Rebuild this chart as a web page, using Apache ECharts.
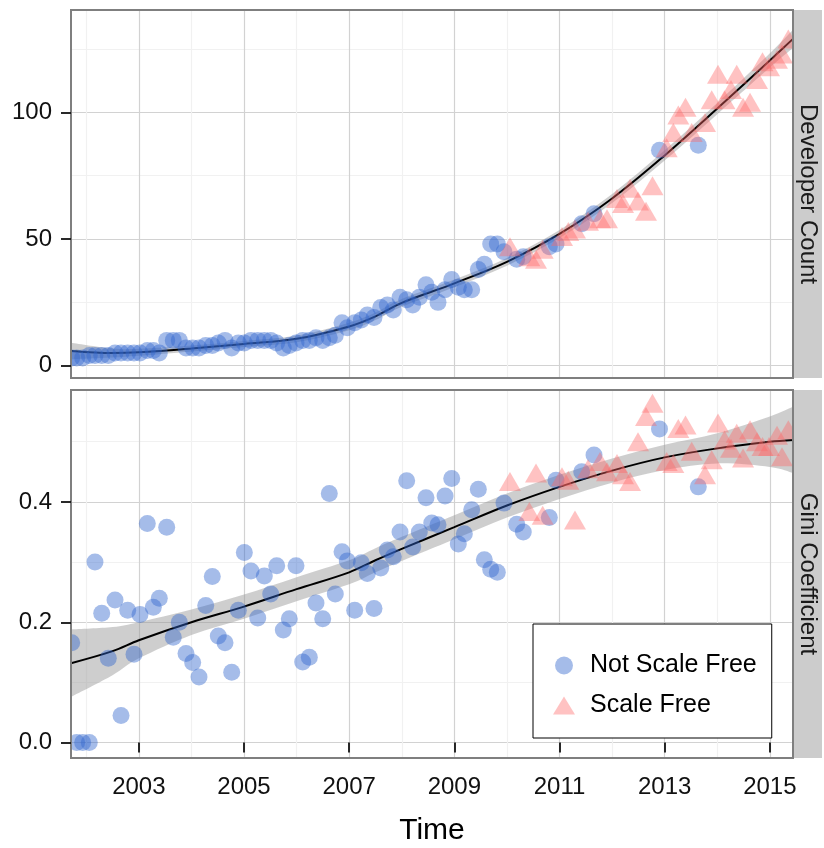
<!DOCTYPE html>
<html>
<head>
<meta charset="utf-8">
<script src="https://cdn.jsdelivr.net/npm/echarts@6/dist/echarts.min.js"></script>
<style>
  html, body { margin: 0; padding: 0; background: #ffffff; }
  #chart { width: 824px; height: 848px; }
</style>
</head>
<body>
<div id="chart"></div>
<script>
// ---- Observations (decimal years) ----
const times = [
  2001.723, 2001.818, 2001.932, 2002.058, 2002.166, 2002.294, 2002.419, 2002.547, 2002.661, 2002.788,
  2002.908, 2003.022, 2003.161, 2003.275, 2003.389, 2003.530, 2003.655, 2003.770, 2003.897, 2004.024,
  2004.144, 2004.272, 2004.397, 2004.511, 2004.639, 2004.766, 2004.892, 2005.006, 2005.133, 2005.261,
  2005.386, 2005.508, 2005.622, 2005.747, 2005.861, 2005.989, 2006.116, 2006.242, 2006.369, 2006.497,
  2006.622, 2006.736, 2006.864, 2006.964, 2007.105, 2007.231, 2007.345, 2007.472, 2007.600, 2007.725,
  2007.839, 2007.967, 2008.094, 2008.208, 2008.334, 2008.461, 2008.570, 2008.689, 2008.823, 2008.950,
  2009.075, 2009.190, 2009.330, 2009.456, 2009.570, 2009.691, 2009.817, 2009.944, 2010.058, 2010.186,
  2010.311, 2010.426, 2010.553, 2010.680, 2010.806, 2010.933, 2011.047, 2011.167, 2011.294, 2011.422,
  2011.542, 2011.656, 2011.770, 2011.903, 2012.093, 2012.208, 2012.341, 2012.493, 2012.645, 2012.768,
  2012.901, 2013.038, 2013.164, 2013.259, 2013.396, 2013.514, 2013.639, 2013.767, 2013.894, 2014.014,
  2014.138, 2014.261, 2014.370, 2014.490, 2014.623, 2014.756, 2014.860, 2014.984, 2015.136, 2015.231,
  2015.351
];

const developerCount = [
  3, 3, 3, 4, 4, 4, 4, 5, 5, 5,
  5, 5, 6, 6, 5, 10, 10, 10, 7, 7,
  7, 8, 8, 9, 10, 7, 9, 9, 10, 10,
  10, 10, 9, 7, 8, 9, 10, 10, 11, 10,
  11, 12, 17, 15, 17, 18, 20, 19, 23, 24,
  22, 27, 26, 24, 27, 32, 29, 25, 30, 34,
  31, 30, 30, 38, 40, 48, 48, 45, 47, 42,
  43, 43, 42, 46, 47, 48, 51, 53, 54, 56,
  57, 60, 58, 58, 66, 64, 70, 65, 61, 71,
  85, 86, 92, 99, 102, 92, 87, 96, 105, 115,
  105, 109, 115, 102, 104, 113, 120, 118, 121, 123,
  129
];

const giniCoefficient = [
  0.166, 0, 0, 0, 0.30, 0.215, 0.14, 0.237, 0.045, 0.22,
  0.147, 0.213, 0.364, 0.225, 0.24, 0.358, 0.175, 0.2, 0.148, 0.133,
  0.109, 0.228, 0.276, 0.177, 0.166, 0.117, 0.22, 0.316, 0.285, 0.207,
  0.277, 0.247, 0.294, 0.187, 0.206, 0.294, 0.134, 0.142, 0.232, 0.206,
  0.414, 0.247, 0.317, 0.302, 0.22, 0.299, 0.281, 0.223, 0.29, 0.32,
  0.309, 0.35, 0.435, 0.325, 0.35, 0.407, 0.365, 0.362, 0.41, 0.439,
  0.33, 0.347, 0.387, 0.421, 0.304, 0.288, 0.283, 0.398, 0.434, 0.363,
  0.35, 0.384, 0.448, 0.378, 0.374, 0.436, 0.442, 0.436, 0.37, 0.45,
  0.455, 0.478, 0.467, 0.45, 0.464, 0.445, 0.434, 0.5, 0.542, 0.564,
  0.521, 0.467, 0.464, 0.522, 0.528, 0.484, 0.425, 0.445, 0.47, 0.531,
  0.503, 0.489, 0.514, 0.473, 0.52, 0.5, 0.492, 0.492, 0.511, 0.475,
  0.52
];

// 1 = scale-free degree distribution, 0 = not
const scaleFree = [
  0, 0, 0, 0, 0, 0, 0, 0, 0, 0,
  0, 0, 0, 0, 0, 0, 0, 0, 0, 0,
  0, 0, 0, 0, 0, 0, 0, 0, 0, 0,
  0, 0, 0, 0, 0, 0, 0, 0, 0, 0,
  0, 0, 0, 0, 0, 0, 0, 0, 0, 0,
  0, 0, 0, 0, 0, 0, 0, 0, 0, 0,
  0, 0, 0, 0, 0, 0, 0, 0, 1, 0,
  0, 1, 1, 1, 0, 0, 1, 1, 1, 0,
  1, 0, 1, 1, 1, 1, 1, 1, 1, 1,
  0, 1, 1, 1, 1, 1, 0, 1, 1, 1,
  1, 1, 1, 1, 1, 1, 1, 1, 1, 1,
  1
];

// ---- Smoothed trend and its confidence band ----
const fitTimes = [2001.71, 2002.5, 2003, 2004, 2005, 2006, 2007, 2007.5, 2008, 2009, 2010, 2011, 2012, 2013, 2014, 2015, 2015.44];
const devFit   = [5.8, 5.0, 5.3, 6.8, 8.6, 10.6, 15.5, 19.5, 24.8, 32.5, 41.0, 52.0, 66.0, 83.0, 101.5, 120.5, 129.0];
const devLower = [2.5, 3.2, 3.9, 5.6, 7.4, 9.3, 14.0, 18.0, 23.3, 31.0, 39.5, 50.4, 64.2, 81.0, 99.3, 117.7, 125.4];
const devUpper = [9.1, 6.8, 6.7, 8.0, 9.8, 11.9, 17.0, 21.0, 26.3, 34.0, 42.5, 53.6, 67.8, 85.0, 103.7, 123.3, 132.6];
const giniFit   = [0.132, 0.152, 0.170, 0.200, 0.226, 0.255, 0.283, 0.303, 0.322, 0.358, 0.394, 0.425, 0.452, 0.474, 0.489, 0.500, 0.503];
const giniLower = [0.076, 0.112, 0.140, 0.179, 0.206, 0.235, 0.263, 0.283, 0.302, 0.338, 0.374, 0.405, 0.432, 0.453, 0.464, 0.458, 0.448];
const giniUpper = [0.188, 0.192, 0.200, 0.221, 0.246, 0.275, 0.303, 0.323, 0.342, 0.378, 0.414, 0.445, 0.472, 0.495, 0.514, 0.542, 0.558];

// ---- Axis ticks ----
const yearTicks = [2003, 2005, 2007, 2009, 2011, 2013, 2015];
const yearMinor = [2002, 2004, 2006, 2008, 2010, 2012, 2014];
const devTicks = [0, 50, 100];
const devMinor = [25, 75, 125];
const giniTicks = [0, 0.2, 0.4];
const giniMinor = [0.1, 0.3, 0.5];

const panelNames = ['Developer Count', 'Gini Coefficient'];
const groupNames = ['Not Scale Free', 'Scale Free'];

// ---- Layout & style ----
const FONT = '"Liberation Sans", Arial, Helvetica, sans-serif';
const GRID_LEFT = 71, GRID_WIDTH = 722, PANEL_H = 368;
const PANEL_TOP = [10, 390];
const STRIP_W = 28;
const X_RANGE = [2001.71, 2015.44];
const Y_RANGE = [[-4.85, 140.4], [-0.0256, 0.586]];
const MAJOR_GRID = '#d2d2d2', MINOR_GRID = '#f1f1f1', BORDER = '#7f7f7f';
const BLUE = 'rgba(51,102,204,0.55)', PINK = 'rgba(255,102,102,0.5)';
const TICK_STYLE = { color: '#111', width: 1.8 };

const chart = echarts.init(document.getElementById('chart'), null, { renderer: 'canvas' });

// Axis carrying ticks/labels (drawn above the panel clip mask)
function xMainAxis(gridIndex, showLabels) {
  return {
    type: 'value', gridIndex: gridIndex, min: X_RANGE[0], max: X_RANGE[1], z: 102,
    axisLine: { show: false },
    axisTick: { show: showLabels, customValues: yearTicks, length: 10, lineStyle: TICK_STYLE },
    axisLabel: showLabels ? {
      show: true, customValues: yearTicks, margin: 17, fontSize: 24, color: '#111', fontFamily: FONT,
      formatter: v => String(Math.round(v))
    } : { show: false },
    splitLine: { show: false },
    name: showLabels ? 'Time' : '',
    nameLocation: 'middle', nameGap: 58,
    nameTextStyle: { fontSize: 30, color: '#000', fontFamily: FONT }
  };
}
function yMainAxis(gridIndex, ticks, digits) {
  return {
    type: 'value', gridIndex: gridIndex, position: 'left', z: 102,
    min: Y_RANGE[gridIndex][0], max: Y_RANGE[gridIndex][1],
    axisLine: { show: false },
    axisTick: { show: true, customValues: ticks, length: 10, lineStyle: TICK_STYLE },
    axisLabel: {
      show: true, customValues: ticks, margin: 19, fontSize: 24, color: '#111', fontFamily: FONT,
      formatter: v => v.toFixed(digits)
    },
    splitLine: { show: false }
  };
}
// Axes that only draw the panel grid lines, underneath the data
function xGridAxis(gridIndex, ticks, color) {
  return {
    type: 'value', gridIndex: gridIndex, min: X_RANGE[0], max: X_RANGE[1], z: 0,
    axisLine: { show: false }, axisLabel: { show: false },
    axisTick: { show: false, customValues: ticks },
    splitLine: { show: true, lineStyle: { color: color, width: 1.2 } }
  };
}
function yGridAxis(gridIndex, ticks, color) {
  return {
    type: 'value', gridIndex: gridIndex, position: 'left', z: 0,
    min: Y_RANGE[gridIndex][0], max: Y_RANGE[gridIndex][1],
    axisLine: { show: false }, axisLabel: { show: false },
    axisTick: { show: false, customValues: ticks },
    splitLine: { show: true, lineStyle: { color: color, width: 1.2 } }
  };
}

// Catmull-Rom curve through pixel points, written as cubic Bezier path commands
function curvePath(pts, moveFirst) {
  let d = (moveFirst ? 'M' : 'L') + pts[0][0] + ',' + pts[0][1];
  for (let i = 0; i < pts.length - 1; i++) {
    const p0 = pts[Math.max(i - 1, 0)], p1 = pts[i], p2 = pts[i + 1], p3 = pts[Math.min(i + 2, pts.length - 1)];
    const c1 = [p1[0] + (p2[0] - p0[0]) / 6, p1[1] + (p2[1] - p0[1]) / 6];
    const c2 = [p2[0] - (p3[0] - p1[0]) / 6, p2[1] - (p3[1] - p1[1]) / 6];
    d += 'C' + c1[0] + ',' + c1[1] + ',' + c2[0] + ',' + c2[1] + ',' + p2[0] + ',' + p2[1];
  }
  return d;
}

function bandSeries(axisIndex, lower, upper) {
  return {
    type: 'custom', xAxisIndex: axisIndex, yAxisIndex: axisIndex, z: 2, silent: true, clip: true,
    data: [[fitTimes[0], lower[0]]],
    renderItem: function (params, api) {
      const top = fitTimes.map((t, i) => api.coord([t, upper[i]]));
      const bottom = fitTimes.map((t, i) => api.coord([t, lower[i]])).reverse();
      return {
        type: 'path',
        shape: { pathData: curvePath(top, true) + curvePath(bottom, false) + 'Z' },
        style: { fill: 'rgba(153,153,153,0.48)', stroke: null }
      };
    }
  };
}

function fitSeries(axisIndex, fit) {
  return {
    type: 'line', xAxisIndex: axisIndex, yAxisIndex: axisIndex, z: 3, silent: true,
    data: fitTimes.map((t, i) => [t, fit[i]]),
    smooth: 0.35, showSymbol: false, symbol: 'none',
    lineStyle: { color: '#000', width: 2 }
  };
}

function pointSeries(axisIndex, values, flag) {
  const pts = [];
  times.forEach((t, i) => { if (scaleFree[i] === flag) pts.push([t, values[i]]); });
  return {
    type: 'scatter', name: groupNames[flag], xAxisIndex: axisIndex, yAxisIndex: axisIndex, z: 4,
    data: pts,
    symbol: flag ? 'triangle' : 'circle',
    symbolSize: flag ? [22, 19] : 17,
    itemStyle: { color: flag ? PINK : BLUE, borderWidth: 0 },
    emphasis: { disabled: true }
  };
}

const graphics = [];
PANEL_TOP.forEach((top, i) => {
  // white margin strip that trims marks overflowing the panel's left edge
  graphics.push({
    type: 'rect', z: 98, silent: true,
    shape: { x: GRID_LEFT - 12, y: top - 2, width: 12, height: PANEL_H + 4 },
    style: { fill: '#ffffff', stroke: null }
  });
  graphics.push({
    type: 'rect', z: 100, silent: true,
    shape: { x: GRID_LEFT, y: top, width: GRID_WIDTH, height: PANEL_H },
    style: { fill: null, stroke: BORDER, lineWidth: 2 }
  });
  graphics.push({
    type: 'rect', z: 99, silent: true,
    shape: { x: GRID_LEFT + GRID_WIDTH + 1, y: top, width: STRIP_W, height: PANEL_H },
    style: { fill: '#cccccc', stroke: null }
  });
  graphics.push({
    type: 'text', z: 101, silent: true,
    x: GRID_LEFT + GRID_WIDTH + 1 + STRIP_W / 2, y: top + PANEL_H / 2,
    rotation: -Math.PI / 2,
    style: { text: panelNames[i], fontSize: 24, fontFamily: FONT, fill: '#1a1a1a', align: 'center', verticalAlign: 'middle' }
  });
});

const option = {
  backgroundColor: '#ffffff',
  animation: false,
  textStyle: { fontFamily: FONT },
  grid: PANEL_TOP.map(top => ({
    left: GRID_LEFT, top: top, width: GRID_WIDTH, height: PANEL_H,
    show: true, backgroundColor: '#ffffff', borderWidth: 0, containLabel: false, outerBoundsMode: 'none'
  })),
  xAxis: [
    xMainAxis(0, false),
    xMainAxis(1, true),
    xGridAxis(0, yearTicks, MAJOR_GRID),
    xGridAxis(1, yearTicks, MAJOR_GRID),
    xGridAxis(0, yearMinor, MINOR_GRID),
    xGridAxis(1, yearMinor, MINOR_GRID)
  ],
  yAxis: [
    yMainAxis(0, devTicks, 0),
    yMainAxis(1, giniTicks, 1),
    yGridAxis(0, devTicks, MAJOR_GRID),
    yGridAxis(1, giniTicks, MAJOR_GRID),
    yGridAxis(0, devMinor, MINOR_GRID),
    yGridAxis(1, giniMinor, MINOR_GRID)
  ],
  legend: {
    orient: 'vertical', left: 533, top: 624,
    data: groupNames,
    itemWidth: 22, itemHeight: 18, itemGap: 15,
    padding: [29, 15, 20, 20],
    backgroundColor: '#ffffff', borderColor: '#000', borderWidth: 1,
    selectedMode: false, z: 103,
    textStyle: { fontSize: 25, color: '#000', fontFamily: FONT, padding: [0, 0, 0, 10] }
  },
  graphic: graphics,
  series: [
    bandSeries(0, devLower, devUpper),
    bandSeries(1, giniLower, giniUpper),
    fitSeries(0, devFit),
    fitSeries(1, giniFit),
    pointSeries(0, developerCount, 0),
    pointSeries(0, developerCount, 1),
    pointSeries(1, giniCoefficient, 0),
    pointSeries(1, giniCoefficient, 1)
  ]
};

chart.setOption(option);
</script>
</body>
</html>
